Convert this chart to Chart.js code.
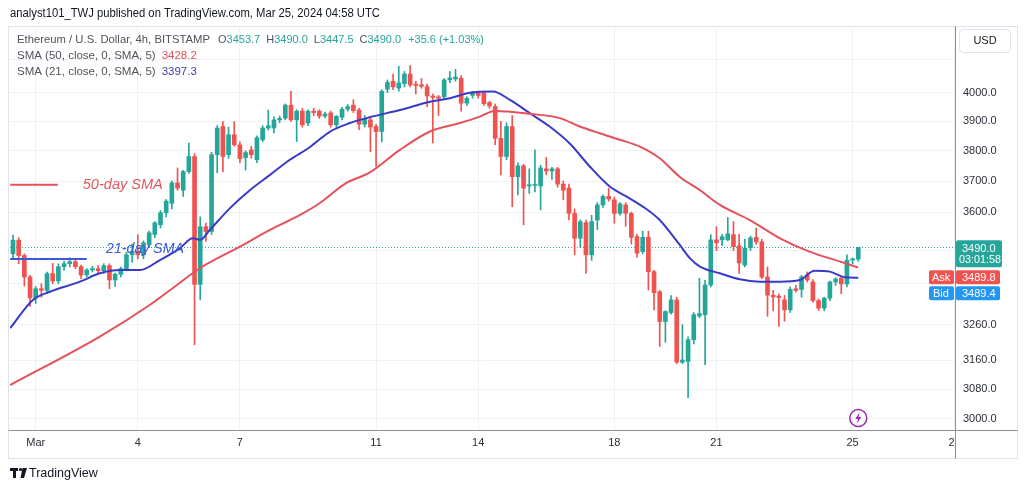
<!DOCTYPE html>
<html>
<head>
<meta charset="utf-8">
<title>ETHUSD 4h</title>
<script src="https://cdn.jsdelivr.net/npm/chart.js@4.4.1/dist/chart.umd.min.js"></script>
<style>
	html, body { margin: 0; padding: 0; background: #fff; }
	#wrap { position: relative; width: 1024px; height: 491px; }
</style>
</head>
<body>
<div id="wrap"><canvas id="eth"></canvas></div>
<script>
// 4h candles, the first one opens Feb 29 08:00 UTC, the last one Mar 25 04:00
const opens = [3470,3512,3465,3400,3338,3365,3360,3410,3388,3431,3440,3446,3431,3406,3421,3425,3419,3434,3391,3408,
	3425,3467,3478,3467,3498,3530,3560,3598,3628,3694,3670,3731,3781,3378,3554,3539,3787,3882,3787,3854,
	3820,3777,3803,3770,3837,3877,3877,3905,3911,3956,3905,3935,3894,3935,3935,3918,3929,3888,3914,3942,
	3956,3939,3890,3905,3882,3865,4012,4040,4016,4032,4066,4030,4028,4021,3988,3985,3985,4045,4048,4051,
	3963,3990,3998,3998,3965,3951,3842,3781,3882,3714,3750,3684,3686,3684,3740,3733,3740,3690,3677,3596,
	3518,3567,3467,3575,3623,3650,3639,3596,3623,3596,3523,3477,3521,3416,3356,3269,3295,3332,3154,3156,
	3217,3285,3289,3376,3513,3513,3513,3529,3495,3436,3489,3521,3507,3400,3346,3343,3332,3303,3365,3363,
	3406,3385,3330,3308,3337,3385,3396,3379,3451,3453.7];
const highs = [3528,3520,3470,3405,3372,3380,3415,3441,3440,3448,3458,3452,3436,3425,3432,3434,3440,3440,3412,3430,
	3475,3500,3529,3510,3540,3570,3605,3640,3700,3743,3735,3826,3790,3585,3565,3795,3885,3899,3880,3899,
	3830,3800,3815,3850,3885,3939,3915,3918,3960,4004,3940,3945,3940,3945,3940,3932,3935,3920,3948,3958,
	3975,3945,3920,3912,3890,4010,4045,4066,4094,4075,4096,4040,4050,4030,3995,3990,4050,4075,4083,4060,
	3985,4005,4005,4005,3970,3960,3900,3895,3920,3760,3755,3740,3803,3752,3778,3745,3745,3700,3690,3610,
	3575,3575,3590,3630,3655,3677,3648,3630,3630,3600,3530,3540,3540,3420,3360,3300,3345,3340,3260,3225,
	3295,3396,3390,3529,3554,3530,3583,3570,3530,3515,3525,3550,3515,3430,3360,3350,3345,3370,3375,3405,
	3415,3392,3335,3340,3388,3398,3400,3467,3458,3490];
const lows = [3458,3440,3373,3313,3322,3340,3350,3380,3380,3420,3430,3425,3395,3400,3415,3412,3410,3365,3372,3400,
	3418,3445,3455,3455,3490,3520,3550,3585,3610,3670,3650,3725,3203,3332,3508,3530,3727,3731,3775,3815,
	3760,3736,3775,3760,3830,3870,3860,3895,3905,3900,3831,3880,3885,3920,3910,3912,3880,3880,3905,3935,
	3930,3871,3880,3797,3748,3830,4000,4010,4005,4020,4020,3995,4015,3951,3826,3920,3975,4035,4040,3935,
	3955,3980,3980,3955,3945,3820,3720,3770,3617,3655,3560,3660,3665,3607,3720,3705,3680,3640,3575,3467,
	3490,3411,3450,3545,3615,3635,3565,3590,3555,3500,3460,3470,3361,3303,3198,3210,3290,3150,3150,3057,
	3205,3280,3147,3370,3480,3495,3510,3480,3411,3430,3480,3500,3395,3284,3300,3255,3270,3295,3355,3340,
	3385,3325,3301,3300,3330,3375,3350,3370,3440,3447.5];
const closes = [3512,3465,3400,3338,3365,3360,3410,3388,3431,3440,3446,3431,3406,3421,3425,3419,3434,3391,3408,3425,
	3467,3478,3467,3504,3535,3566,3598,3635,3694,3677,3731,3781,3378,3554,3539,3787,3877,3781,3854,3820,
	3774,3794,3787,3844,3877,3885,3905,3910,3956,3905,3935,3888,3935,3930,3918,3925,3888,3917,3942,3951,
	3937,3890,3907,3880,3865,4004,4036,4020,4034,4066,4027,4025,4022,3988,3983,3980,4045,4052,4055,3963,
	3980,3998,3990,3961,3953,3842,3781,3882,3714,3750,3677,3688,3688,3743,3733,3740,3690,3670,3596,3518,
	3570,3467,3570,3623,3650,3642,3596,3626,3596,3521,3472,3521,3416,3353,3269,3298,3332,3154,3160,3217,
	3289,3292,3376,3513,3504,3523,3532,3492,3442,3487,3519,3507,3400,3346,3341,3339,3303,3363,3360,3400,
	3391,3330,3308,3337,3385,3394,3379,3451,3454.4,3490.0];

// moving averages (x = candle index)
const sma50X = [-0.5,15.3,24.1,27.7,33.0,40.0,45.3,50.6,54.1,58.5,62.9,68.2,73.5,78.8,82.3,84.9,87.6,91.1,96.4,99.9,
	103.4,107.0,110.5,114.0,117.5,121.1,124.6,129.9,135.2,140.4,145.7,149];
const sma50Y = [3091,3226,3317,3361,3427,3492,3544,3591,3629,3691,3728,3803,3865,3894,3916,3936,3933,3926,3911,3882,
	3859,3837,3814,3775,3714,3670,3623,3575,3518,3477,3447,3428.2];
const sma21X = [-0.5,3.5,6.5,11.8,15.3,18.9,22.4,25.9,29.4,31.7,33.0,34.7,38.2,41.8,45.3,48.8,52.3,55.9,59.4,62.9,
	68.2,73.5,77.0,80.5,84.6,87.6,91.1,94.6,98.1,101.7,105.2,108.7,111.4,114.0,117.5,119.3,121.1,124.6,128.1,131.6,
	135.2,138.7,141.3,144.0,146.6,149];
const sma21Y = [3250,3332,3356,3386,3411,3421,3421,3451,3487,3518,3513,3544,3612,3671,3720,3770,3812,3865,3894,3914,
	3939,3968,3980,3999,4004,3974,3928,3882,3825,3747,3682,3644,3613,3575,3498,3457,3431,3411,3393,3386,
	3386,3391,3419,3416,3399,3397.3];

// axis ticks
const dayNums = [1,4,7,11,14,18,21,25,28];
const dayLabels = ['Mar','4','7','11','14','18','21','25','28'];
const priceTicks = [3000,3080,3160,3260,3380,3480,3600,3700,3800,3900,4000,4120];
const hiddenPrices = [3380,3480,4120];

const askPrice = 3489.8;
const bidPrice = 3489.4;
const countdown = '03:01:58';

const UP = '#26a69a';
const DOWN = '#ef5350';
const RED_SMA = '#e5505a';
const BLUE_SMA = '#3a3ac6';
const TXT = '#131722';
const GREY_TXT = '#50535e';

Chart.defaults.font.family = '"Liberation Sans", Arial, sans-serif';

function candleIndex(day) {
	// 6 candles a day, Mar 1 00:00 is index 4
	return 4 + 6 * (day - 1);
}

function roundRect(ctx, x, y, w, h, r, fill, stroke) {
	ctx.beginPath();
	ctx.roundRect(x, y, w, h, r);
	if (fill) { ctx.fillStyle = fill; ctx.fill(); }
	if (stroke) { ctx.strokeStyle = stroke; ctx.lineWidth = 1; ctx.stroke(); }
}

// draw text pieces one after the other, each [text, colour, gap after]
function textRun(ctx, x, y, pieces) {
	pieces.forEach(p => {
		ctx.fillStyle = p[1];
		ctx.fillText(p[0], x, y);
		x += ctx.measureText(p[0]).width + (p[2] || 0);
	});
}

const decorations = {
	id: 'decorations',
	beforeDatasetsDraw(chart) {
		const ctx = chart.ctx;
		const y = chart.scales.y;
		const area = chart.chartArea;
		// last price line
		const last = closes[closes.length - 1];
		const py = Math.round(y.getPixelForValue(last)) + 0.5;
		ctx.save();
		ctx.strokeStyle = UP;
		ctx.lineWidth = 1;
		ctx.setLineDash([1, 2]);
		ctx.beginPath();
		ctx.moveTo(area.left, py);
		ctx.lineTo(area.right, py);
		ctx.stroke();
		ctx.restore();
	},
	afterDatasetsDraw(chart) {
		const ctx = chart.ctx;
		const x = chart.scales.x, y = chart.scales.y;
		ctx.save();
		// hand drawn notes on the chart
		ctx.lineWidth = 2;
		ctx.strokeStyle = RED_SMA;
		ctx.beginPath();
		ctx.moveTo(x.getPixelForValue(-0.5), y.getPixelForValue(3688));
		ctx.lineTo(x.getPixelForValue(7.9), y.getPixelForValue(3688));
		ctx.stroke();
		ctx.strokeStyle = '#3b5bd6';
		ctx.beginPath();
		ctx.moveTo(x.getPixelForValue(-0.5), y.getPixelForValue(3454));
		ctx.lineTo(x.getPixelForValue(13.0), y.getPixelForValue(3454));
		ctx.stroke();
		ctx.font = 'italic 15px "Liberation Sans", Arial, sans-serif';
		ctx.textBaseline = 'middle';
		ctx.fillStyle = '#e0585c';
		ctx.fillText('50-day SMA', x.getPixelForValue(12.3), y.getPixelForValue(3688), 80);
		ctx.fillStyle = '#3b5bd6';
		ctx.fillText('21-day SMA', x.getPixelForValue(16.4), y.getPixelForValue(3485), 78);
		ctx.restore();
	},
	afterDraw(chart) {
		const ctx = chart.ctx;
		const x = chart.scales.x, y = chart.scales.y;
		const area = chart.chartArea;
		const frameL = 8.5, frameR = 1017.5, frameT = area.top - 0.5, frameB = x.bottom + 0.5;
		ctx.save();
		// blank the axis corner so the last date label is cut like the original
		ctx.fillStyle = '#fff';
		ctx.fillRect(area.right + 0.5, x.top + 1, frameR - area.right - 1, x.bottom - x.top - 1);
		// frame and axis lines
		ctx.strokeStyle = '#e0e3eb';
		ctx.lineWidth = 1;
		ctx.strokeRect(frameL, frameT, frameR - frameL, frameB - frameT);
		ctx.strokeStyle = '#8d9099';
		ctx.beginPath();
		ctx.moveTo(frameL, Math.round(area.bottom) + 0.5);
		ctx.lineTo(frameR, Math.round(area.bottom) + 0.5);
		ctx.moveTo(Math.round(area.right) + 0.5, frameT);
		ctx.lineTo(Math.round(area.right) + 0.5, frameB);
		ctx.stroke();

		// title above the chart
		ctx.textBaseline = 'middle';
		ctx.font = '12px "Liberation Sans", Arial, sans-serif';
		ctx.fillStyle = TXT;
		ctx.fillText('analyst101_TWJ published on TradingView.com, Mar 25, 2024 04:58 UTC', 10, 14, 370);

		// legend block
		const n = closes.length - 1;
		const chg = closes[n] - closes[n - 1];
		const pct = chg / closes[n - 1] * 100;
		ctx.font = '11.5px "Liberation Sans", Arial, sans-serif';
		ctx.fillStyle = GREY_TXT;
		ctx.fillText('Ethereum / U.S. Dollar, 4h, BITSTAMP', 17, 40, 193);
		ctx.font = '11px "Liberation Sans", Arial, sans-serif';
		textRun(ctx, 218, 40, [
			['O', GREY_TXT], [opens[n].toFixed(1), UP, 6],
			['H', GREY_TXT], [highs[n].toFixed(1), UP, 6],
			['L', GREY_TXT], [lows[n].toFixed(1), UP, 6],
			['C', GREY_TXT], [closes[n].toFixed(1), UP, 7],
			[(chg >= 0 ? '+' : '') + chg.toFixed(1) + ' (' + (pct >= 0 ? '+' : '') + pct.toFixed(2) + '%)', UP]
		]);
		ctx.font = '11.5px "Liberation Sans", Arial, sans-serif';
		textRun(ctx, 17, 56, [['SMA (50, close, 0, SMA, 5)', GREY_TXT, 6], [sma50Y[sma50Y.length - 1].toFixed(1), RED_SMA]]);
		textRun(ctx, 17, 72, [['SMA (21, close, 0, SMA, 5)', GREY_TXT, 6], [sma21Y[sma21Y.length - 1].toFixed(1), '#3d3da8']]);

		// currency box
		roundRect(ctx, 959.5, 29.5, 51, 23, 4, '#fff', '#e0e3eb');
		ctx.fillStyle = TXT;
		ctx.font = '11px "Liberation Sans", Arial, sans-serif';
		ctx.textAlign = 'center';
		ctx.fillText('USD', 985, 41);

		// price labels on the axis
		const py = y.getPixelForValue(closes[n]);
		const ax = area.right + 1;
		roundRect(ctx, ax, py - 7, 46, 27, 2, UP);
		ctx.fillStyle = '#fff';
		ctx.textAlign = 'left';
		ctx.fillText(closes[n].toFixed(1), ax + 6, py + 2);
		ctx.fillText(countdown, ax + 3, py + 13, 42);
		roundRect(ctx, area.right - 26, py + 23, 25, 14, 2, DOWN);
		roundRect(ctx, ax, py + 23, 44, 14, 2, DOWN);
		roundRect(ctx, area.right - 26, py + 39, 25, 14, 2, '#2196f3');
		roundRect(ctx, ax, py + 39, 44, 14, 2, '#2196f3');
		ctx.fillStyle = '#fff';
		ctx.fillText('Ask', area.right - 23, py + 30.5);
		ctx.fillText(askPrice.toFixed(1), ax + 6, py + 30.5);
		ctx.fillText('Bid', area.right - 22, py + 46.5);
		ctx.fillText(bidPrice.toFixed(1), ax + 6, py + 46.5);

		// lightning marker under the last candle
		const lx = x.getPixelForValue(n), ly = area.bottom - 12;
		ctx.strokeStyle = '#9c27b0';
		ctx.lineWidth = 1.5;
		ctx.beginPath();
		ctx.arc(lx, ly, 8.5, 0, Math.PI * 2);
		ctx.stroke();
		ctx.fillStyle = '#9c27b0';
		ctx.beginPath();
		ctx.moveTo(lx + 1.5, ly - 6);
		ctx.lineTo(lx - 3, ly + 1);
		ctx.lineTo(lx - 0.2, ly + 1);
		ctx.lineTo(lx - 1.5, ly + 6);
		ctx.lineTo(lx + 3, ly - 1);
		ctx.lineTo(lx + 0.2, ly - 1);
		ctx.closePath();
		ctx.fill();

		// TradingView mark
		ctx.fillStyle = TXT;
		ctx.fillRect(10, 468, 8, 3);
		ctx.fillRect(13, 468, 3, 10);
		ctx.beginPath();
		ctx.arc(20.5, 469.5, 1.6, 0, Math.PI * 2);
		ctx.fill();
		ctx.beginPath();
		ctx.moveTo(22.5, 468);
		ctx.lineTo(27, 468);
		ctx.lineTo(24, 478);
		ctx.lineTo(20.5, 478);
		ctx.closePath();
		ctx.fill();
		ctx.font = '12.5px "Liberation Sans", Arial, sans-serif';
		ctx.fillText('TradingView', 29, 473.5, 71);
		ctx.restore();
	}
};

function candleChart(id) {
	let chartID = document.getElementById(id);
	const colorOf = c => closes[c.dataIndex] >= opens[c.dataIndex] ? UP : DOWN;
	new Chart(chartID, {
		type: 'bar',
		data: {
			datasets: [
			{
				type: 'line',
				label: 'SMA 50',
				data: sma50X.map((v, k) => ({ x: v, y: sma50Y[k] })),
				borderColor: RED_SMA,
				borderWidth: 2,
				pointRadius: 0,
				cubicInterpolationMode: 'monotone',
				order: 0
			},
			{
				type: 'line',
				label: 'SMA 21',
				data: sma21X.map((v, k) => ({ x: v, y: sma21Y[k] })),
				borderColor: BLUE_SMA,
				borderWidth: 2,
				pointRadius: 0,
				cubicInterpolationMode: 'monotone',
				order: 0
			},
			{
				label: 'body',
				data: opens.map((o, i) => ({ x: i, y: [o, closes[i]] })),
				backgroundColor: colorOf,
				barThickness: 4,
				minBarLength: 1,
				grouped: false,
				order: 1
			},
			{
				label: 'wick',
				data: opens.map((o, i) => ({ x: i, y: [lows[i], highs[i]] })),
				backgroundColor: colorOf,
				barThickness: 1,
				grouped: false,
				order: 2
			},
		]
		},
		options: {
			responsive: true,
			maintainAspectRatio: false,
			animation: false,
			events: [],
			layout: { padding: { left: 10, top: 27, right: 6, bottom: 33 } },
			plugins: {
				legend: { display: false },
				tooltip: { enabled: false }
			},
			scales: {
				x: {
					type: 'linear',
					min: -0.53,
					max: 166.05,
					offset: false,
					grid: { color: '#eef1f5', offset: false, drawTicks: false },
					border: { display: false },
					afterBuildTicks: s => { s.ticks = dayNums.map(d => ({ value: candleIndex(d) })); },
					afterFit: s => { s.height = 28; },
					ticks: {
						autoSkip: false,
						maxRotation: 0,
						padding: 6,
						color: '#2a2e39',
						font: { size: 11 },
						callback: v => dayLabels[dayNums.findIndex(d => candleIndex(d) === v)]
					}
				},
				y: {
					type: 'logarithmic',
					position: 'right',
					min: 2971,
					max: 4238,
					grid: { color: '#eef1f5', drawTicks: false },
					border: { display: false },
					afterBuildTicks: s => { s.ticks = priceTicks.map(v => ({ value: v })); },
					afterFit: s => { s.width = 63; },
					ticks: {
						autoSkip: false,
						padding: 8,
						color: '#2a2e39',
						font: { size: 11 },
						callback: v => hiddenPrices.includes(v) ? '' : v.toFixed(1)
					}
				}
			}
		},
		plugins: [decorations]
	});
}

candleChart('eth');
</script>
</body>
</html>
